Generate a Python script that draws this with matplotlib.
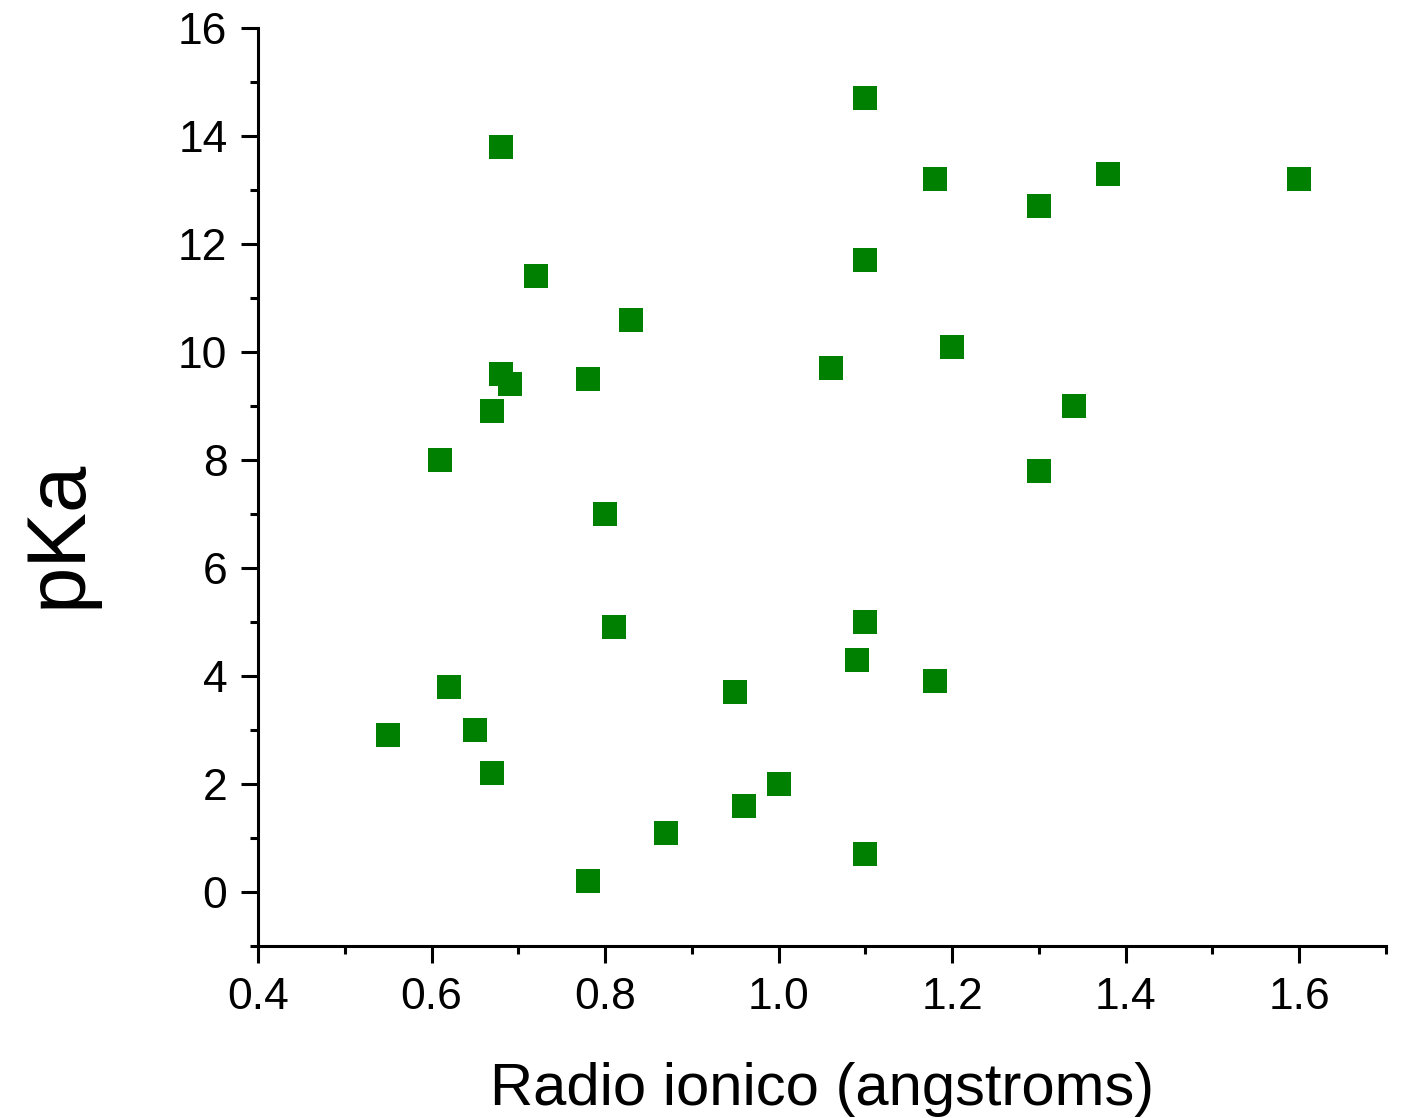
import matplotlib
matplotlib.use("Agg")
import matplotlib.pyplot as plt
from matplotlib.ticker import MultipleLocator

# ionic radius (angstroms) vs pKa
radio = [1.10, 0.68, 1.18, 1.38, 1.60, 1.30, 1.10, 0.72, 0.83, 1.20,
         1.06, 0.68, 0.69, 0.78, 1.34, 0.67, 0.61, 1.30, 0.80, 0.81,
         1.10, 1.09, 0.62, 1.18, 0.95, 0.55, 0.65, 0.67, 1.00, 0.96,
         0.87, 1.10, 0.78]
pka = [14.7, 13.8, 13.2, 13.3, 13.2, 12.7, 11.7, 11.4, 10.6, 10.1,
       9.7, 9.6, 9.4, 9.5, 9.0, 8.9, 8.0, 7.8, 7.0, 4.9,
       5.0, 4.3, 3.8, 3.9, 3.7, 2.9, 3.0, 2.2, 2.0, 1.6,
       1.1, 0.7, 0.2]

plt.rcParams['font.family'] = ['Liberation Sans', 'DejaVu Sans']

fig = plt.figure(figsize=(14.04, 11.18), dpi=100)
ax = fig.add_axes([0.1838, 0.1538, 0.9872 - 0.1838, 0.975 - 0.1538])

ax.scatter(radio, pka, marker='s', s=300, color='#008000', edgecolors='none', zorder=3)

ax.set_xlim(0.4, 1.7)
ax.set_ylim(-1, 16)
ax.xaxis.set_major_locator(MultipleLocator(0.2))
ax.xaxis.set_minor_locator(MultipleLocator(0.1))
ax.yaxis.set_major_locator(MultipleLocator(2))
ax.yaxis.set_minor_locator(MultipleLocator(1))
ax.set_yticks(range(0, 17, 2))

for s in ['top', 'right']:
    ax.spines[s].set_visible(False)
for s in ['left', 'bottom']:
    ax.spines[s].set_linewidth(2.2)

ax.tick_params(which='major', direction='out', length=12, width=2.2, labelsize=32, pad=10)
ax.tick_params(which='minor', direction='out', length=6, width=2.2)

ax.set_xlabel('Radio ionico (angstroms)', fontsize=43, labelpad=32)
ax.set_ylabel('pKa', fontsize=60)
ax.yaxis.set_label_coords(-0.142, 0.449)

fig.savefig('out.png', dpi=100)
